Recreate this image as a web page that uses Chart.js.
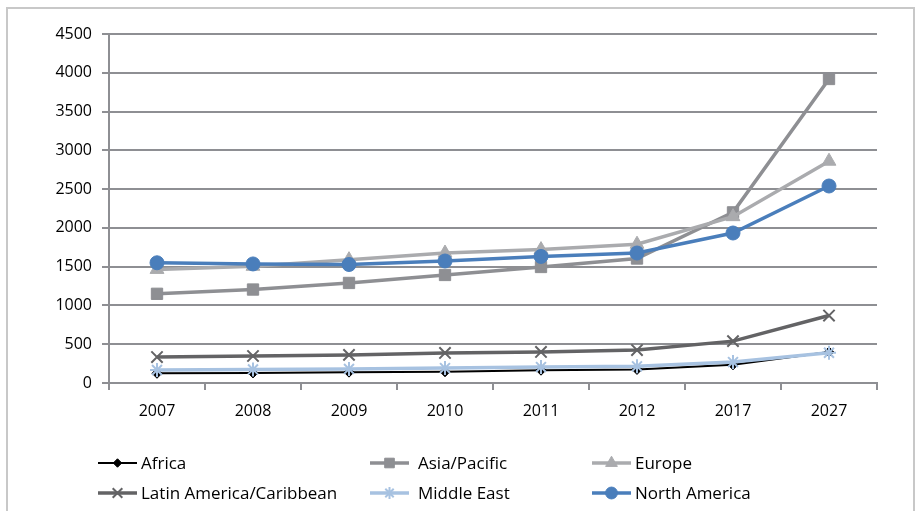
<!DOCTYPE html>
<html>
<head>
<meta charset="utf-8">
<script src="https://cdn.jsdelivr.net/npm/chart.js@4"></script>
<style>
  html, body { margin: 0; padding: 0; background: #fff; }
  .wrap { position: relative; width: 916px; height: 511px; overflow: hidden; }
  .frame { position: absolute; left: 6px; top: 7px; width: 909px; height: 520px; border: 2px solid #c8c8c8; box-sizing: border-box; }
  canvas { position: absolute; left: 0; top: 0; }
</style>
</head>
<body>
<div class="wrap">
  <div class="frame"></div>
  <canvas id="chart" width="916" height="511"></canvas>
</div>
<script>
const years = ['2007', '2008', '2009', '2010', '2011', '2012', '2017', '2027']
const africa = [125, 130, 140, 145, 165, 175, 235, 400]
const asiaPacific = [1150, 1205, 1290, 1393, 1496, 1605, 2200, 3920]
const europe = [1465, 1505, 1590, 1676, 1720, 1790, 2145, 2860]
const latinAmerica = [335, 348, 362, 387, 400, 425, 540, 870]
const middleEast = [168, 175, 182, 192, 205, 215, 270, 390]
const northAmerica = [1550, 1535, 1528, 1573, 1632, 1676, 1934, 2540]

const gridColor = '#8e8f93'
const font = "'Open Sans', 'DejaVu Sans', sans-serif"

function series(label, data, color, width, style, radius, order) {
    return {
        label: label,
        data: data,
        borderColor: color,
        backgroundColor: color,
        pointBackgroundColor: color,
        pointBorderColor: color,
        borderWidth: width,
        pointStyle: style,
        pointRadius: radius,
        pointBorderWidth: style === 'crossRot' || style === 'star' ? 2 : 1,
        pointHoverRadius: radius,
        tension: 0,
        order: order
    }
}

const datasets = [
    series('Africa', africa, '#000000', 2, 'rectRot', 5, 6),
    series('Asia/Pacific', asiaPacific, '#8e8f93', 3.5, 'rect', 8, 5),
    series('Europe', europe, '#aaabae', 3.5, 'triangle', 8, 4),
    series('Latin America/Caribbean', latinAmerica, '#636365', 3.5, 'crossRot', 8, 3),
    series('Middle East', middleEast, '#a7c2e1', 3.5, 'star', 7, 2),
    series('North America', northAmerica, '#4a7ebb', 3.5, 'circle', 7, 1)
]

// legend drawn in a fixed 3-column grid below the axis
const legendCols = [98, 370, 592]
const legendRows = [463, 493]
const legendGrid = {
    id: 'legendGrid',
    afterDraw(chart) {
        const c = chart.ctx
        chart.data.datasets.forEach((ds, i) => {
            const x = legendCols[i % 3]
            const y = legendRows[Math.floor(i / 3)]
            c.save()
            c.strokeStyle = ds.borderColor
            c.fillStyle = ds.borderColor
            c.lineWidth = ds.borderWidth
            c.beginPath()
            c.moveTo(x, y)
            c.lineTo(x + 39, y)
            c.stroke()
            c.lineWidth = ds.pointBorderWidth
            Chart.helpers.drawPoint(c, {
                pointStyle: ds.pointStyle,
                radius: ds.pointRadius * 0.85,
                borderWidth: ds.pointBorderWidth,
                rotation: 0
            }, x + 19.5, y)
            c.fillStyle = '#000'
            c.font = '17px ' + font
            c.textBaseline = 'middle'
            c.fillText(ds.label, x + (i % 3 === 1 ? 48 : 43), y + 1)
            c.restore()
        })
    }
}

new Chart(document.getElementById('chart'), {
    type: 'line',
    data: { labels: years, datasets: datasets },
    plugins: [legendGrid],
    options: {
        responsive: false,
        animation: false,
        events: [],
        layout: { padding: { left: 0, right: 39, top: 34, bottom: 0 } },
        plugins: {
            legend: { display: false },
            tooltip: { enabled: false }
        },
        scales: {
            x: {
                offset: true,
                grid: { drawOnChartArea: false, drawTicks: true, tickLength: 7, color: gridColor, lineWidth: 2, offset: true },
                border: { color: gridColor, width: 2 },
                ticks: { color: '#000', font: { family: font, size: 16 }, padding: 12, maxRotation: 0 },
                afterFit(scale) { scale.height = 128 }
            },
            y: {
                min: 0,
                max: 4500,
                grid: { color: gridColor, lineWidth: 2, tickLength: 7 },
                border: { color: gridColor, width: 2 },
                ticks: { stepSize: 500, color: '#000', font: { family: font, size: 16 }, padding: 10, callback: v => String(v) },
                afterFit(scale) { scale.width = 109 }
            }
        }
    }
})
</script>
</body>
</html>
